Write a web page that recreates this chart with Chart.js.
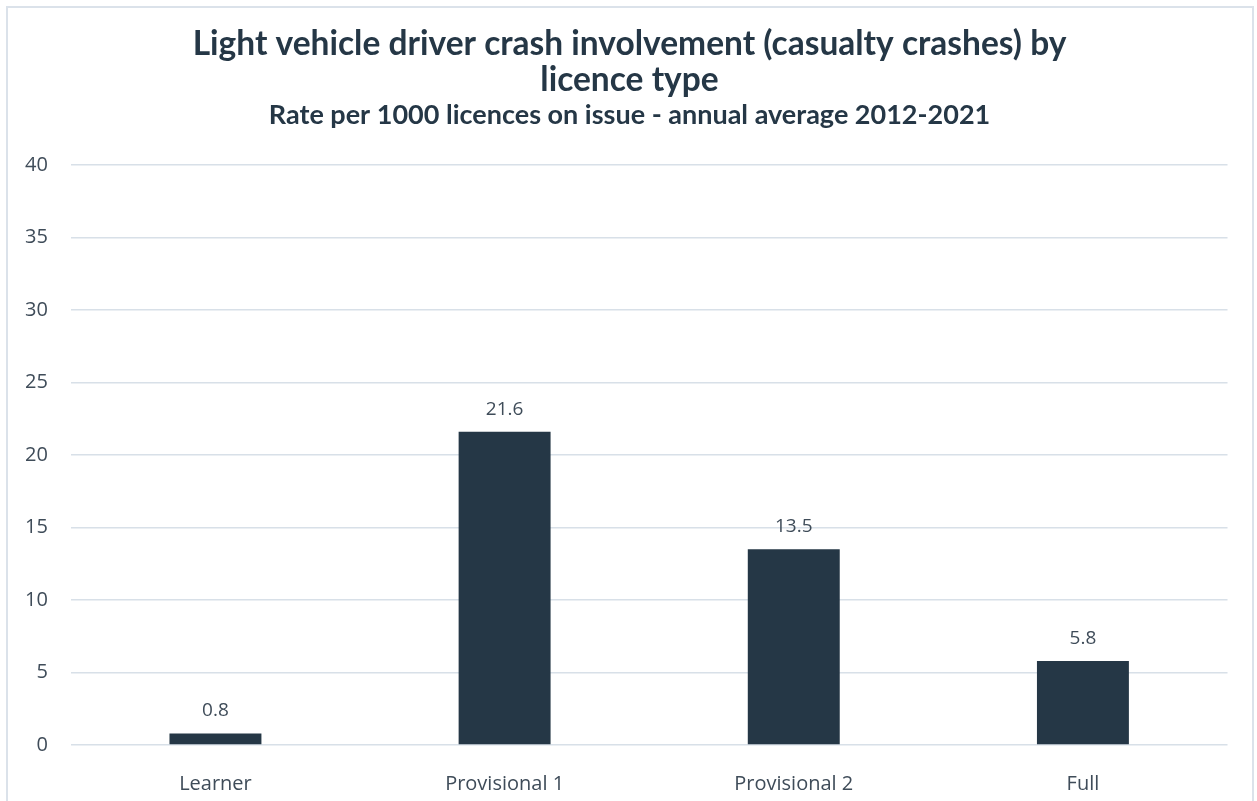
<!DOCTYPE html>
<html>
<head>
<meta charset="utf-8">
<script src="https://cdn.jsdelivr.net/npm/chart.js@4"></script>
<style>
  html, body { margin: 0; padding: 0; background: #fff; overflow: hidden; }
  #frame {
    position: absolute; left: 6px; top: 6px;
    width: 1244px; height: 820px;
    border: 2px solid #dbe2ea;
  }
  #wrap { position: absolute; left: 0; top: 0; width: 1257px; height: 801px; }
</style>
</head>
<body>
<div id="frame"></div>
<div id="wrap"><canvas id="crashChart"></canvas></div>
<script>
// licence types and crash rate per 1000 licences
const licenceTypes = ["Learner", "Provisional 1", "Provisional 2", "Full"];
const crashRates = [0.8, 21.6, 13.5, 5.8];
const yTicks = [0, 5, 10, 15, 20, 25, 30, 35, 40];

const navy = "#253746";
const textGrey = "#3f4c59";

// draws the value above each bar
const valueLabels = {
  id: "valueLabels",
  afterDatasetsDraw(chart) {
    const ctx = chart.ctx;
    const meta = chart.getDatasetMeta(0);
    ctx.save();
    ctx.font = "19px 'Open Sans'";
    ctx.fillStyle = textGrey;
    ctx.textAlign = "center";
    ctx.textBaseline = "alphabetic";
    meta.data.forEach((bar, i) => {
      ctx.fillText(crashRates[i].toFixed(1), bar.x, bar.y - 17);
    });
    ctx.restore();
  }
};

// title + subtitle are centred on the whole frame, not the padded area
const centreTitles = {
  id: "centreTitles",
  afterLayout(chart) {
    chart.boxes.forEach((box) => {
      if (box.options && box.options.text !== undefined) {
        box.left = 2;
        box.right = chart.width;
        box.width = chart.width - 2;
      }
    });
  }
};

const ctx = document.getElementById("crashChart").getContext("2d");
new Chart(ctx, {
  type: "bar",
  data: {
    labels: licenceTypes,
    datasets: [{
      data: crashRates,
      backgroundColor: navy,
      borderWidth: 0,
      barPercentage: 0.318,
      categoryPercentage: 1
    }]
  },
  options: {
    responsive: true,
    maintainAspectRatio: false,
    animation: false,
    layout: { padding: { left: 2, right: 29.5, bottom: 0, top: 0 } },
    plugins: {
      legend: { display: false },
      tooltip: { enabled: false },
      title: {
        display: true,
        text: ["Light vehicle driver crash involvement (casualty crashes) by", "licence type"],
        color: navy,
        font: { family: "Lato", size: 33.5, weight: "bold", lineHeight: 36 / 33.5 },
        padding: { top: 26, bottom: 1 }
      },
      subtitle: {
        display: true,
        text: "Rate per 1000 licences on issue - annual average 2012-2021",
        color: navy,
        font: { family: "Lato", size: 27, weight: "bold", lineHeight: 1.2 },
        padding: { top: 0, bottom: 33.6 }
      }
    },
    scales: {
      x: {
        grid: { display: false },
        border: { display: false },
        ticks: { color: textGrey, font: { family: "Open Sans", size: 20 }, padding: 19 },
        // axis reserves padding twice; trim so the plot reaches the reference baseline
        afterFit: (axis) => { axis.height = 56; }
      },
      y: {
        min: 0,
        max: 40,
        afterBuildTicks: (axis) => { axis.ticks = yTicks.map((v) => ({ value: v })); },
        grid: { color: "#d8e0e8", lineWidth: 1.5, drawTicks: false },
        border: { display: false },
        ticks: { color: textGrey, font: { family: "Open Sans", size: 20 }, padding: 23 }
      }
    }
  },
  plugins: [valueLabels, centreTitles]
});
</script>
</body>
</html>
